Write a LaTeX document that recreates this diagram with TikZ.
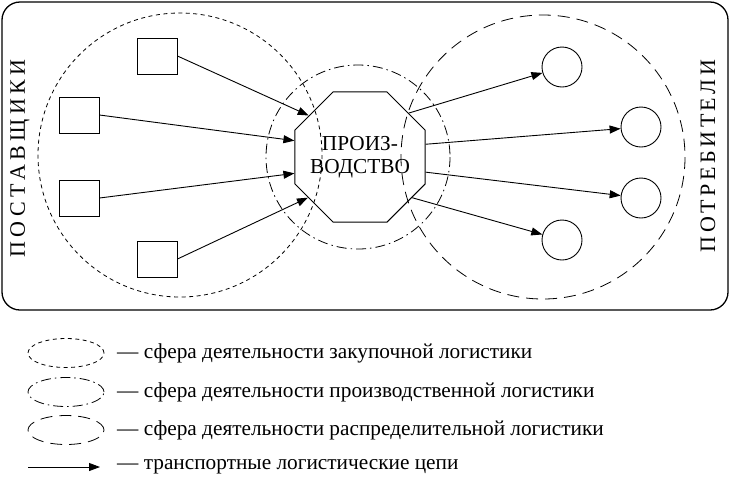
\documentclass[tikz,border=0pt]{standalone}
\usepackage{fontspec}
\setmainfont{Liberation Serif}
\usetikzlibrary{arrows.meta,shapes.geometric}
\newcommand\bodysize{\fontsize{21.3}{23.5}\selectfont}
\newcommand\sidefont{\fontsize{22}{26}\selectfont\addfontfeatures{LetterSpace=20}}
\newcommand\sidefontb{\fontsize{22}{26}\selectfont\addfontfeatures{LetterSpace=16}}
\tikzset{
 supplier/.style={draw,line width=.9pt,minimum width=40pt,minimum height=36pt,inner sep=0pt},
 consumer/.style={draw,circle,line width=.9pt,minimum size=40pt,inner sep=0pt},
 chain/.style={line width=.9pt,-{Triangle[length=11pt,width=8pt]}},
 buyzone/.style={line width=.8pt,dash pattern=on 4pt off 3.5pt},
 makezone/.style={line width=.8pt,dash pattern=on 10pt off 4pt on 1.5pt off 4pt},
 sellzone/.style={line width=.8pt,dash pattern=on 12pt off 7pt},
 keyshape/.style={draw,ellipse,minimum width=76pt,minimum height=29pt,inner sep=0pt},
 keytext/.style={anchor=west,inner sep=0pt,font=\bodysize}
}

\begin{document}
\begin{tikzpicture}[x=1pt,y=-1pt]
\useasboundingbox (0,0) rectangle (730,491);
\draw[line width=1.3pt,rounded corners=18pt] (2,2) rectangle (728,310);
\draw[buyzone] (180,155) circle (142);
\draw[makezone] (358,157) circle (92);
\draw[sellzone] (543,157) circle (142);
\node[regular polygon,regular polygon sides=8,draw,line width=.9pt,minimum size=141pt,
 inner sep=0pt] (prod) at (360,157) {};
\node[align=center,font=\bodysize,inner sep=0pt] (prodtext) at (prod.center) {ПРОИЗ-\\ВОДСТВО};
\foreach \n/\xx/\yy/\a in {1/157/56/141,2/79/115/166,3/79/198/194,4/157/259/218} {
 \node[supplier] (s\n) at (\xx,\yy) {};
 \draw[chain] (s\n.east) -- (prod.\a);}
\foreach \n/\xx/\yy/\a in {1/562/67/42,2/641/127/11,3/641/198/-13,4/562/240/-38} {
 \node[consumer] (c\n) at (\xx,\yy) {};
 \draw[chain] (prod.\a) -- (c\n);}
\node[rotate=90,font=\sidefont] (supl) at (20,158.5) {ПОСТАВЩИКИ};
\node[rotate=90,font=\sidefontb] (cons) at (708,156) {ПОТРЕБИТЕЛИ};
\node[keyshape,buyzone] (kbuy) at (66,353) {};
\node[keytext] (tbuy) at (117,353) {— сфера деятельности закупочной логистики};
\node[keyshape,makezone] (kmake) at (66,392) {};
\node[keytext] (tmake) at (117,392) {— сфера деятельности производственной логистики};
\node[keyshape,sellzone] (ksell) at (66,430) {};
\node[keytext] (tsell) at (117,430) {— сфера деятельности распределительной логистики};
\coordinate (kfrom) at (28,467);
\coordinate (kto) at (100,467);
\draw[chain] (kfrom) -- (kto);
\node[keytext] (tchain) at (117,467) {— транспортные логистические цепи};
\end{tikzpicture}
\end{document}
